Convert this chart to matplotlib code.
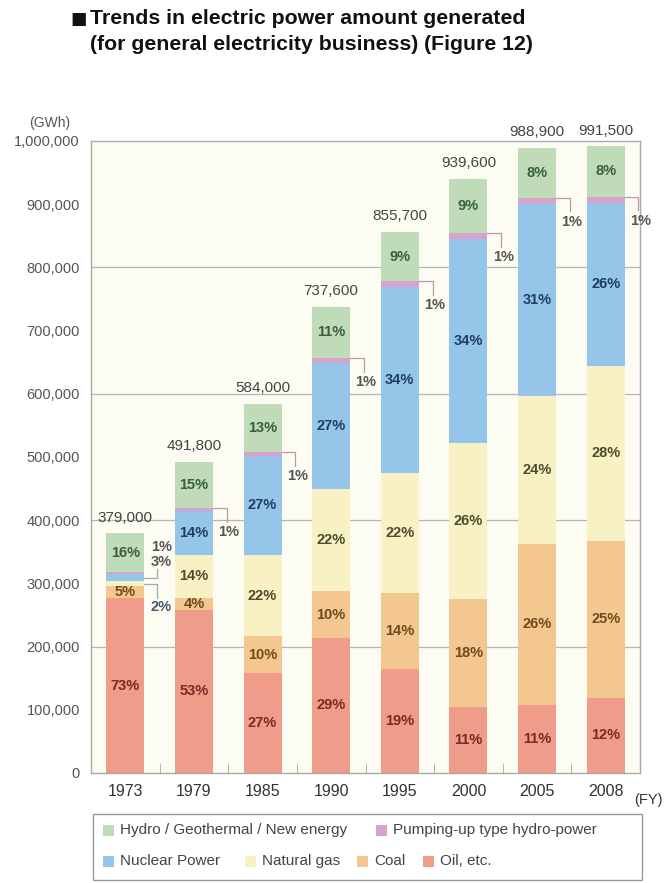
import matplotlib
matplotlib.use('Agg')
import matplotlib.pyplot as plt
from matplotlib.patches import Rectangle
from matplotlib.ticker import FixedLocator, FuncFormatter
import numpy as np

plt.rcParams['font.family'] = ['Liberation Sans', 'DejaVu Sans']

# ---------------- data ----------------
years = ['1973', '1979', '1985', '1990', '1995', '2000', '2005', '2008']
totals = [379000, 491800, 584000, 737600, 855700, 939600, 988900, 991500]
total_labels = ['379,000', '491,800', '584,000', '737,600', '855,700',
                '939,600', '988,900', '991,500']
# shares (%) as labelled, bottom to top
oil = [73, 53, 27, 29, 19, 11, 11, 12]
coal = [5, 4, 10, 10, 14, 18, 26, 25]
gas = [2, 14, 22, 22, 22, 26, 24, 28]
nuclear = [3, 14, 27, 27, 34, 34, 31, 26]
pumping = [1, 1, 1, 1, 1, 1, 1, 1]
hydro = [16, 15, 13, 11, 9, 9, 8, 8]

series_names = ['Oil, etc.', 'Coal', 'Natural gas', 'Nuclear Power',
                'Pumping-up type hydro-power', 'Hydro / Geothermal / New energy']
series = [oil, coal, gas, nuclear, pumping, hydro]
colors = ['#ef9c8b', '#f3c78f', '#f7f1c4', '#96c5ea', '#d6a3cc', '#c0dbb8']
text_colors = ['#7a2a22', '#6e4a1c', '#4e4b2c', '#1f3c66', '#555555', '#35603a']

# ---------------- figure ----------------
fig = plt.figure(figsize=(6.65, 8.83), dpi=100)
fig.patch.set_facecolor('white')
ax = fig.add_axes([91 / 665, 1 - 773 / 883, (640 - 91) / 665, (773 - 141) / 883])
ax.set_facecolor('#fdfcf3')

x = np.arange(len(years))
width = 0.555
shares = np.array(series, dtype=float)
sums = shares.sum(axis=0)
values = shares / sums * np.array(totals)

bottoms = np.zeros(len(years))
seg_bottom = []
for i, vals in enumerate(values):
    ax.bar(x, vals, width, bottom=bottoms, color=colors[i], edgecolor='none', zorder=2)
    seg_bottom.append(bottoms.copy())
    bottoms = bottoms + vals
seg_bottom = np.array(seg_bottom)

# gridlines
for g in [200000, 400000, 600000, 800000]:
    ax.axhline(g, color='#b5b5b5', lw=0.9, zorder=1)

ax.set_xlim(-0.5, len(years) - 0.5)
ax.set_ylim(0, 1000000)
for s in ax.spines.values():
    s.set_color('#a8a8a8')
    s.set_linewidth(1.0)

ax.yaxis.set_major_locator(FixedLocator(np.arange(0, 1000001, 100000)))
ax.yaxis.set_major_formatter(FuncFormatter(lambda v, p: f'{int(v):,}'))
ax.tick_params(axis='y', length=0, labelsize=10.5, labelcolor='#555555', pad=8)
ax.set_xticks(x)
ax.set_xticklabels(years)
ax.tick_params(axis='x', length=0, labelsize=11.5, labelcolor='#333333', pad=8)
ax.set_xticks(x[:-1] + 0.5, minor=True)
ax.tick_params(axis='x', which='minor', direction='in', length=7, color='#a8a8a8')

# inside labels
for j in range(len(years)):
    for i in range(len(series)):
        if i == 4:
            continue
        if j == 0 and i in (2, 3):
            continue
        yc = seg_bottom[i][j] + values[i][j] / 2
        ax.text(x[j], yc, f'{series[i][j]}%', ha='center', va='center',
                fontsize=10.5, fontweight='bold', color=text_colors[i], zorder=4)

# total labels
for j in range(len(years)):
    ax.text(x[j], totals[j] + 14000, total_labels[j], ha='center', va='bottom',
            fontsize=11, color='#444444', clip_on=False, zorder=4)

lead_color = '#b99aaf'
# pumping outside labels (1979 onward)
for j in range(1, len(years)):
    top = seg_bottom[4][j] + values[4][j]
    xr = x[j] + width / 2
    ly = top - 38000
    ax.plot([xr, xr + 0.2, xr + 0.2], [top, top, ly + 16000], color=lead_color,
            lw=0.9, zorder=3, clip_on=False)
    ax.text(xr + 0.23, ly, f'{pumping[j]}%', ha='center', va='center',
            fontsize=10.5, fontweight='bold', color='#555555', clip_on=False, zorder=4)

# 1973 outside labels
xr = x[0] + width / 2
nuc_mid = seg_bottom[3][0] + values[3][0] / 2
gas_mid = seg_bottom[2][0] + values[2][0] / 2
pump_top = seg_bottom[4][0] + values[4][0]
y3 = pump_top + 16000
y1 = y3 + 24000
y2 = gas_mid - 36000
ax.plot([xr, xr + 0.18, xr + 0.18], [nuc_mid, nuc_mid, y3 - 12000], color='#a0a8b8', lw=0.9, zorder=3)
ax.plot([xr, xr + 0.18, xr + 0.18], [gas_mid, gas_mid, y2 + 13000], color='#a0a8b8', lw=0.9, zorder=3)
ax.text(xr + 0.25, y1, f'{pumping[0]}%', ha='center', va='center', fontsize=10.5,
        fontweight='bold', color='#555555', zorder=4)
ax.text(xr + 0.25, y3, f'{nuclear[0]}%', ha='center', va='center', fontsize=10.5,
        fontweight='bold', color='#555555', zorder=4)
ax.text(xr + 0.25, y2, f'{gas[0]}%', ha='center', va='center', fontsize=10.5,
        fontweight='bold', color='#4a5a70', zorder=4)

# unit labels
fig.text(50 / 665, 1 - 123 / 883, '(GWh)', ha='center', va='center', fontsize=10, color='#555555')
fig.text(663 / 665, 1 - 800 / 883, '(FY)', ha='right', va='center', fontsize=10.5, color='#333333')

# title
fig.text(70 / 665, 1 - 19 / 883, '\u25A0', ha='left', va='center', fontsize=12.5, color='#111111',
         family=['DejaVu Sans'])
fig.text(90 / 665, 1 - 18 / 883, 'Trends in electric power amount generated',
         ha='left', va='center', fontsize=15.3, fontweight='bold', color='#111111')
fig.text(90 / 665, 1 - 45 / 883, '(for general electricity business) (Figure 12)',
         ha='left', va='center', fontsize=15.3, fontweight='bold', color='#111111')

# legend (manual)
fig.patches.append(Rectangle((93 / 665, 1 - 880 / 883), (642 - 93) / 665, (880 - 814) / 883,
                             transform=fig.transFigure, facecolor='white', edgecolor='#9a9a9a',
                             lw=1.0, zorder=1))
legend_items = [
    (5, 103, 830), (4, 376, 830),
    (3, 103, 861), (2, 245, 861), (1, 357, 861), (0, 423, 861),
]
sq = 11
for idx, px, py in legend_items:
    fig.patches.append(Rectangle((px / 665, 1 - (py + sq / 2) / 883), sq / 665, sq / 883,
                                 transform=fig.transFigure, facecolor=colors[idx],
                                 edgecolor='none', zorder=2))
    fig.text((px + sq + 6) / 665, 1 - py / 883, series_names[idx], ha='left', va='center',
             fontsize=11, color='#444444', zorder=3)

fig.savefig('out.png', dpi=100)
